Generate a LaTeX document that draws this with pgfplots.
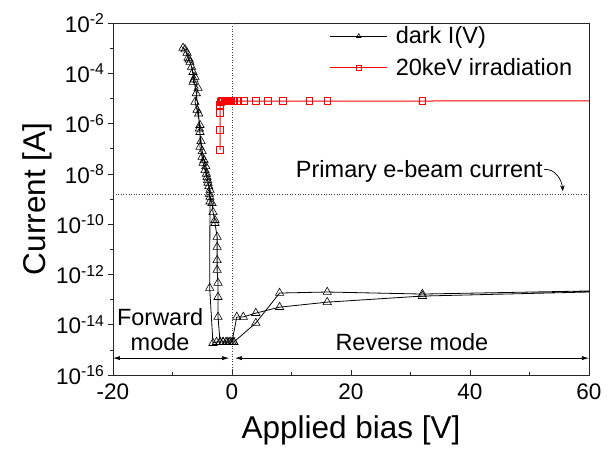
\documentclass[border=0pt]{standalone}
\usepackage{fontspec}
\setmainfont{Liberation Sans}
\usepackage{pgfplots}
\pgfplotsset{compat=1.18}
\usetikzlibrary{arrows.meta}
\begin{document}
\begin{tikzpicture}
\begin{axis}[
  at={(0,0)}, anchor=south west,
  scale only axis, width=476pt, height=352pt,
  ymode=log, xmin=-20, xmax=60, ymin=1e-16, ymax=1e-2,
  clip=false,
  axis line style={line width=0.8pt, black!85},
  xtick={-20,0,20,40,60}, xticklabels={-20,0,20,40,60},
  minor xtick={-10,10,30,50},
  ytick={1e-16,1e-14,1e-12,1e-10,1e-8,1e-6,1e-4,1e-2},
  yticklabels={10\textsuperscript{-16},10\textsuperscript{-14},10\textsuperscript{-12},10\textsuperscript{-10},10\textsuperscript{-8},10\textsuperscript{-6},10\textsuperscript{-4},10\textsuperscript{-2}},
  minor ytick={1e-15,1e-13,1e-11,1e-9,1e-7,1e-5,1e-3},
  xtick pos=bottom, ytick pos=left,
  tick align=inside,
  major tick length=5pt, minor tick length=3pt,
  tick style={line width=0.7pt, black!85},
  every major y tick/.append style={xshift=-5pt},
  every minor y tick/.append style={xshift=-3pt},
  tick label style={font=\fontsize{22.5}{26}\selectfont},
  x tick label style={yshift=-5pt},
  y tick label style={xshift=-5pt},
  xlabel={Applied bias [V]},
  ylabel={Current [A]},
  xlabel style={font=\fontsize{31.5}{36}\selectfont, at={(axis description cs:0.5,0)}, anchor=center, yshift=-55pt},
  ylabel style={font=\fontsize{31.5}{36}\selectfont, at={(axis description cs:-0.158,0.5)}, anchor=center},
  legend style={draw=none, fill=none, inner sep=0pt, at={(0.455,0.995)}, anchor=north west,
    font=\fontsize{23.5}{28}\selectfont, row sep=9pt, column sep=6pt, nodes={inner ysep=2pt}},
  legend cell align=left,
  legend image code/.code={\draw[#1, mark size=2.6pt, mark repeat=2, mark phase=2] plot coordinates {(0pt,0pt) (28.5pt,0pt) (57pt,0pt)};},
]
% reference lines
\addplot[dotted, line width=0.6pt, black!75, forget plot] coordinates {(0,1e-16) (0,1e-2)};
\addplot[dotted, line width=0.6pt, black!75, forget plot] coordinates {(-20,1.6e-9) (60,1.6e-9)};

% dark I(V)
\addplot[black, line width=0.8pt, mark=triangle, mark size=4.8pt, mark options={solid, line width=0.6pt}] coordinates {
(0.3,2.04e-15) (-0.3,2.04e-15) (-0.8,2.04e-15) (-1.5,2.04e-15) (-2.0,2.04e-15)
(-2.35,2.04e-14) (-2.35,1.26e-13) (-2.35,4.6e-13) (-2.5,1.5e-12) (-2.5,3.7e-12)
(-2.5,1.23e-11) (-2.5,3.1e-11) (-2.86,1.1e-10) (-2.86,1.45e-10) (-3.19,3.0e-10)
(-3.36,6.9e-10) (-3.7,1.2e-9) (-3.7,2.3e-9) (-4.03,4.4e-9) (-4.2,7.4e-9)
(-4.54,1.4e-8) (-4.87,2.7e-8) (-5.04,4.7e-8) (-5.38,1.17e-7) (-5.38,4.6e-7)
(-5.38,8.7e-7) (-5.88,3.5e-6) (-6.22,7.2e-6) (-5.71,2.6e-5) (-6.55,4.5e-5)
(-6.22,7.1e-5) (-6.55,1.12e-4) (-7.06,2.8e-4) (-7.39,4.1e-4) (-7.56,6.5e-4)
(-8.24,1.02e-3)
(-7.9,8.9e-4) (-7.2,3.5e-4) (-6.8,1.8e-4) (-6.4,5.6e-5) (-6.0,1.6e-5)
(-5.6,2.5e-6) (-5.5,6.3e-7) (-5.2,2.0e-7) (-5.0,7.9e-8) (-4.7,3.5e-8)
(-4.4,2.0e-8) (-4.3,1.0e-8) (-4.1,5.6e-9) (-3.9,3.2e-9) (-3.8,1.6e-9)
(-3.7,7.9e-10) (-3.75,2.9e-13) (-3.2,1.86e-15)
(-2.6,2.04e-15) (-2.0,2.04e-15) (-1.5,2.04e-15) (-1.0,2.04e-15) (-0.5,2.04e-15) (0,2.04e-15)
(0.8,2.04e-14) (1.9,2.04e-14) (4,2.9e-14) (8,5.0e-14) (16,7.9e-14) (32,1.38e-13)
};
\addlegendentry{dark I(V)}
\addplot[black, line width=0.8pt, forget plot] coordinates {(32,1.38e-13) (60,2.0e-13) (60,2.2e-13) (32,1.66e-13)};
\addplot[black, line width=0.8pt, mark=triangle, mark size=4.8pt, mark options={solid, line width=0.6pt}, forget plot] coordinates {
(32,1.66e-13) (16,2.0e-13) (8,1.82e-13) (4,1.17e-14) (0.3,2.04e-15)
};

% 20keV irradiation
\addplot[red, line width=1pt, mark=square, mark size=3.3pt, mark options={solid, line width=0.7pt}] coordinates {
(-2,8.9e-8) (-2,5.5e-7) (-2,2.6e-6) (-2,5.5e-6) (-1.9,7.4e-6) (-1.7,7.9e-6)
(-1.5,7.9e-6) (-1.3,7.9e-6) (-1.1,7.9e-6) (-0.9,7.9e-6) (-0.7,7.9e-6) (-0.5,7.9e-6)
(-0.3,7.9e-6) (-0.1,7.9e-6) (0.1,7.9e-6) (0.4,7.9e-6) (1,7.9e-6) (2,7.9e-6)
(4,7.9e-6) (6,7.9e-6) (8.5,7.9e-6) (13,7.9e-6) (16,7.9e-6) (32,7.9e-6)
};
\addlegendentry{20keV irradiation}
\addplot[red, line width=1pt, forget plot] coordinates {(32,7.9e-6) (60,8.0e-6)};

% annotations
\node[anchor=west, font=\fontsize{23.5}{28}\selectfont, inner sep=0pt] at (rel axis cs:0.384,0.577) {Primary e-beam current};
\draw[line width=0.7pt, -{Stealth[length=6pt,width=4.5pt]}] (rel axis cs:0.906,0.584) to[out=5,in=95] (rel axis cs:0.945,0.522);
\node[align=center, font=\fontsize{23.5}{25}\selectfont, inner sep=0pt] at (rel axis cs:0.099,0.128) {Forward\\mode};
\node[font=\fontsize{23.5}{28}\selectfont, inner sep=0pt] at (rel axis cs:0.628,0.094) {Reverse mode};
\draw[line width=0.6pt, {Latex[length=7pt,width=4pt]}-{Latex[length=7pt,width=4pt]}] (rel axis cs:0,0.048) -- (rel axis cs:0.244,0.048);
\draw[line width=0.6pt, {Latex[length=7pt,width=4pt]}-{Latex[length=7pt,width=4pt]}] (rel axis cs:0.256,0.048) -- (rel axis cs:1,0.048);
\end{axis}
\pgfresetboundingbox
\path (-113pt,-73pt) rectangle (500pt,375pt);
\end{tikzpicture}
\end{document}
